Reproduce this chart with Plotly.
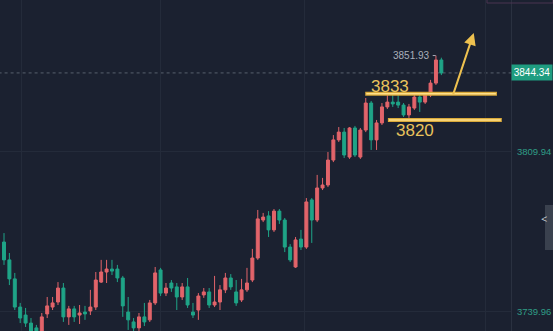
import plotly.graph_objects as go

# ---------------- data ----------------
opens = [3770.5, 3762.7, 3754.4, 3742.1, 3738.6, 3735.1, 3733.0, 3730.8, 3739.1, 3742.1,
         3744.3, 3750.4, 3737.8, 3741.3, 3738.6, 3739.9, 3740.4, 3742.1, 3753.0, 3757.4,
         3758.7, 3758.7, 3754.8, 3739.9, 3735.6, 3733.0, 3737.8, 3736.5, 3743.9, 3758.3,
         3748.2, 3752.6, 3750.9, 3746.5, 3750.9, 3739.9, 3740.8, 3747.4, 3748.7, 3743.0,
         3744.3, 3749.6, 3754.8, 3748.7, 3745.2, 3749.6, 3753.9, 3763.5, 3780.1, 3781.9,
         3775.8, 3784.0, 3780.1, 3768.3, 3759.6, 3771.8, 3768.3, 3788.9, 3780.1, 3794.1,
         3795.4, 3806.3, 3815.1, 3818.5, 3807.6, 3820.3, 3807.6, 3819.4, 3831.2, 3815.1,
         3822.5, 3829.5, 3831.6, 3831.6, 3830.3, 3826.0, 3829.0, 3833.8, 3831.6, 3834.7,
         3839.9, 3850.0]
highs = [3774.4, 3765.7, 3757.0, 3743.9, 3741.7, 3737.3, 3734.3, 3739.5, 3746.5, 3746.5,
         3753.0, 3752.6, 3742.6, 3742.6, 3743.0, 3742.6, 3749.6, 3757.4, 3762.7, 3762.7,
         3762.7, 3760.5, 3755.7, 3746.5, 3737.3, 3739.5, 3743.9, 3745.2, 3759.6, 3759.2,
         3752.6, 3753.9, 3752.6, 3752.6, 3754.8, 3743.9, 3748.2, 3750.4, 3750.4, 3755.7,
         3751.7, 3757.0, 3756.5, 3753.9, 3754.4, 3759.2, 3767.5, 3784.5, 3783.2, 3784.0,
         3784.9, 3784.9, 3781.0, 3769.6, 3772.7, 3775.8, 3789.7, 3789.7, 3799.8, 3798.5,
         3809.8, 3817.2, 3820.7, 3820.3, 3820.7, 3821.2, 3820.3, 3833.4, 3832.1, 3823.8,
         3831.2, 3834.7, 3834.7, 3834.7, 3831.2, 3830.8, 3834.7, 3834.7, 3835.6, 3841.3,
         3851.93, 3851.0]
lows = [3760.5, 3751.7, 3740.8, 3735.1, 3733.4, 3730.3, 3727.7, 3729.5, 3737.3, 3740.8,
        3743.0, 3735.6, 3734.3, 3735.6, 3734.7, 3736.5, 3738.6, 3740.8, 3752.6, 3752.6,
        3756.1, 3753.0, 3737.8, 3732.1, 3731.6, 3731.2, 3733.8, 3735.6, 3743.0, 3746.9,
        3746.9, 3748.7, 3740.8, 3745.2, 3741.7, 3737.3, 3736.5, 3746.1, 3741.7, 3742.1,
        3740.8, 3748.2, 3749.6, 3742.6, 3744.3, 3748.7, 3753.0, 3762.7, 3779.2, 3772.7,
        3774.9, 3778.4, 3766.1, 3761.8, 3759.2, 3767.0, 3767.5, 3770.1, 3779.2, 3793.2,
        3794.5, 3805.4, 3814.2, 3807.2, 3806.8, 3807.6, 3806.8, 3818.5, 3810.7, 3810.7,
        3821.6, 3828.6, 3829.5, 3829.0, 3825.1, 3824.7, 3828.2, 3827.3, 3830.8, 3833.8,
        3839.1, 3843.4]
closes = [3762.7, 3754.4, 3742.1, 3737.3, 3735.1, 3731.6, 3729.5, 3737.8, 3742.6, 3743.9,
          3750.4, 3737.8, 3741.3, 3737.8, 3739.5, 3739.1, 3742.1, 3753.9, 3757.4, 3758.7,
          3757.8, 3754.8, 3742.6, 3736.5, 3733.0, 3737.8, 3735.6, 3743.9, 3757.0, 3748.2,
          3750.4, 3750.4, 3746.5, 3750.9, 3743.0, 3738.6, 3746.9, 3748.7, 3743.0, 3744.3,
          3749.6, 3754.8, 3750.9, 3743.9, 3749.6, 3752.6, 3763.5, 3780.6, 3781.4, 3775.8,
          3784.0, 3780.1, 3768.3, 3762.7, 3771.4, 3768.3, 3788.0, 3780.1, 3794.1, 3795.4,
          3806.3, 3815.1, 3818.5, 3808.5, 3820.3, 3808.5, 3819.4, 3831.2, 3815.1, 3822.5,
          3829.5, 3831.6, 3830.8, 3830.3, 3826.0, 3829.5, 3833.8, 3831.6, 3834.7, 3839.9,
          3850.0, 3844.34]
bars = list(range(len(opens)))

last_price = 3844.34
high_price = 3851.93
axis_ticks = [3809.94, 3739.96]
level_labels = ["3833", "3820"]
level_values = [3835.2, 3823.8]        # where the hand-drawn lines sit
level_spans = [(66.9, 91.3), (71.1, 92.2)]
label_pos = [(71.5, 3838.4), (76.1, 3819.0)]
arrow_tail = (83.1, 3834.3)
arrow_head = (87.0, 3861.8)

BG = "#1b2130"
UP = "#e2646a"
DOWN = "#1fa487"
GOLD = "#eec14f"

fig = go.Figure()
fig.add_trace(go.Candlestick(
    x=bars, open=opens, high=highs, low=lows, close=closes,
    increasing=dict(line=dict(color=UP, width=1), fillcolor=UP),
    decreasing=dict(line=dict(color=DOWN, width=1), fillcolor=DOWN),
    whiskerwidth=0, showlegend=False, hoverinfo="skip",
))

# last price dotted line
fig.add_shape(type="line", xref="x", yref="y", x0=-1, x1=100, y0=last_price, y1=last_price,
              line=dict(color="#58606e", width=1, dash="dot"), layer="below")

# support / resistance lines
for v, (a, b) in zip(level_values, level_spans):
    fig.add_shape(type="line", xref="x", yref="y", x0=a, x1=b, y0=v, y1=v,
                  line=dict(color="#d9a93a", width=4))
    fig.add_shape(type="line", xref="x", yref="y", x0=a + 0.2, x1=b - 0.2, y0=v, y1=v,
                  line=dict(color="#ffe08a", width=1.5))

for t, (lx, ly) in zip(level_labels, label_pos):
    fig.add_annotation(x=lx, y=ly, xref="x", yref="y", text=t, showarrow=False,
                       font=dict(family="Liberation Sans, Arial", size=17, color="#e9c35c"))

# arrow
fig.add_annotation(x=arrow_head[0], y=arrow_head[1], ax=arrow_tail[0], ay=arrow_tail[1],
                   xref="x", yref="y", axref="x", ayref="y", text="", showarrow=True,
                   arrowhead=2, arrowsize=1.2, arrowwidth=2, arrowcolor=GOLD)

# high label
fig.add_annotation(x=79.3, y=high_price, xref="x", yref="y", text=f"{high_price:.2f}",
                   showarrow=False, xanchor="right",
                   font=dict(family="Liberation Sans, Arial", size=10, color="#a9afba"))
fig.add_shape(type="line", xref="x", yref="y", x0=79.4, x1=80.2, y0=high_price, y1=high_price,
              line=dict(color="#a9afba", width=1, dash="dot"))

# last price label box on right axis
fig.add_annotation(x=1.0, y=last_price, xref="paper", yref="y", text=f"{last_price:.2f}",
                   showarrow=False, xanchor="right", bgcolor="#1f9d80",
                   borderpad=2, width=36,
                   font=dict(family="Liberation Sans, Arial", size=10, color="#ffffff"))

# collapse button on the right edge
fig.add_shape(type="rect", xref="paper", yref="paper", x0=545 / 553, x1=1.0,
              y0=1 - 250 / 331, y1=1 - 205 / 331, fillcolor="#3a414e", line=dict(width=0))
fig.add_annotation(x=549 / 553, y=1 - 228 / 331, xref="paper", yref="paper", text="<",
                   showarrow=False, font=dict(size=11, color="#c9ced6"))
# top-right cut-off box
fig.add_shape(type="rect", xref="paper", yref="paper", x0=487 / 553, x1=1.0,
              y0=1 - 3 / 331, y1=1.02, fillcolor="rgba(0,0,0,0)",
              line=dict(color="#4a3550", width=1))

fig.update_layout(
    width=553, height=331,
    margin=dict(l=0, r=0, t=0, b=0),
    paper_bgcolor=BG, plot_bgcolor=BG,
    boxgap=0.22,
    xaxis=dict(domain=[0, 511 / 553], range=[-0.74, 93.9], rangeslider=dict(visible=False),
               showticklabels=False, tickvals=[3.33, 28.9, 55.7, 89.1],
               showgrid=True, gridcolor="#242b3a", gridwidth=1, zeroline=False,
               showline=False, fixedrange=True),
    yaxis=dict(range=[3731.64, 3876.19], side="right", tickvals=axis_ticks,
               ticktext=[f"{v:.2f}" for v in axis_ticks], ticks="", ticklabelstandoff=3,
               tickfont=dict(family="Liberation Sans, Arial", size=9.5, color="#2f9d86"),
               showgrid=True, gridcolor="#242b3a", zeroline=False,
               showline=True, linecolor="#2a3140", automargin=False),
    showlegend=False,
)

fig.write_html("out.html")
